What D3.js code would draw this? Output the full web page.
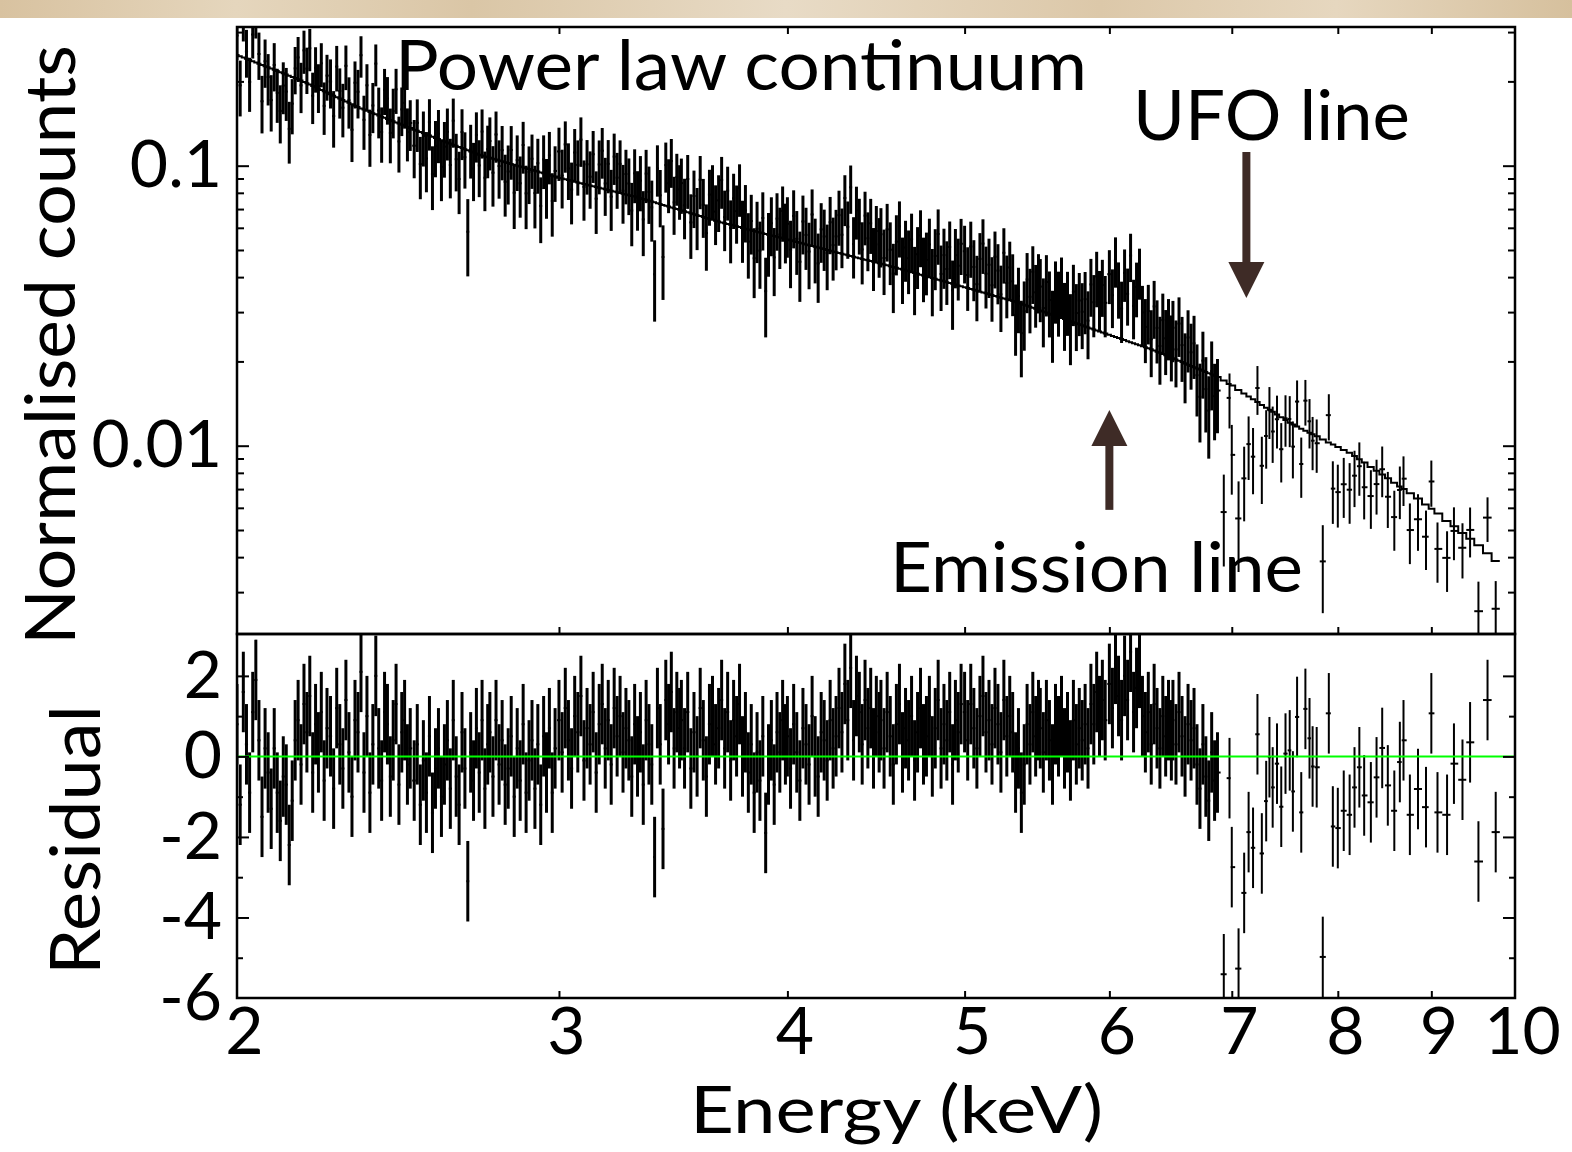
<!DOCTYPE html>
<html><head><meta charset="utf-8">
<script src="https://cdn.jsdelivr.net/npm/d3@7"></script>
<style>
html,body{margin:0;padding:0;background:#fff;}
svg{display:block;}
text{font-family:Lato,"Noto Sans",sans-serif;fill:#000;}
</style></head><body>
<svg id="chart" width="1572" height="1152"></svg>
<script>
// ================= DATA =================
// channel grouping of the densely binned part (start energy and bin step, keV)
const segStartKeV = [2.00, 2.25, 2.50, 2.75, 3.00, 3.50, 4.00, 4.50, 5.00, 5.50, 6.00, 6.50];
const segStepKeV  = [0.0080, 0.0088, 0.0097, 0.0107, 0.0120, 0.0140, 0.0158, 0.0177, 0.0195, 0.0213, 0.0232, 0.0250];
// relative 1-sigma error of each group
const segRelErr   = [0.20, 0.21, 0.22, 0.23, 0.24, 0.25, 0.26, 0.27, 0.27, 0.28, 0.28, 0.28];

// residuals (sigma), one array per group
const resid1 = [0.8,-1.2,1.6,0.3,-0.9,1.1,1.9,0.4,-1.5,0.2,-0.4,-1.3,0.2,-0.9,-1.6,-0.5,-0.7,-2.2,-1.1,0.4,0.9,-0.2,1.3,0.6,1.5,-0.4,0.8,0.1,1.1,-0.6,0.7];
const resid2 = [0.5,-0.8,1.2,0.3,-0.3,1.4,0.1,-1.0,0.9,0.6,2.1,-0.4,1.0,-0.9,0.3,2.0,0.2,-0.6,1.1,0.8,-0.5,0.4,1.3,-0.7,0.6,0.9,-0.2,0.2];
const resid3 = [-0.6,0.3,-1.2,-0.1,-0.9,0.5,-1.4,-0.3,0.2,-1.0,-0.2,0.4,-0.8,0.9,-0.5,-1.2,0.6,-0.3,-3.1,0.1,-0.6,0.7,-0.4,0.9,-0.8,0.3];
const resid4 = [0.6,-0.5,0.9,-0.2,0.4,-0.7,-0.3,0.5,-1.0,0.2,-0.6,0.8,-0.9,-0.1,0.4,-0.8,0.3,-1.2,0.5,-0.4,0.7,-0.9,0.2];
const resid5 = [0.9,0.1,1.2,0.4,-0.3,1.0,0.6,1.5,-0.1,0.7,0.3,1.1,-0.4,0.8,1.3,0.2,0.9,-0.2,1.2,0.5,1.0,0.1,0.7,0.4,-0.5,0.8,0.0,0.6,-0.7,0.9,0.3,-0.2,-2.5,1.2,0.3,-1.8,1.4,0.8,1.6,0.2,1.1,0.7];
const resid6 = [0.9,0.2,1.1,-0.3,0.6,0.0,1.2,0.4,-0.5,0.8,1.0,0.3,0.7,1.4,0.2,1.1,-0.1,0.9,0.5,1.3,0.0,0.6,-0.4,0.3,-0.9,0.1,-0.6,0.5,-1.9,-0.2,0.4,-0.7,0.6,0.1,0.9,0.3];
const resid7 = [0.5,-0.3,0.8,0.1,-0.6,0.7,0.3,-0.2,1.0,0.0,-0.5,0.6,0.4,-0.1,0.9,0.2,0.5,1.2,0.6,1.8,0.9,2.2,0.4,1.5,1.1,0.3,1.4,0.7,1.2,0.2,1.0,0.6];
const resid8 = [0.9,0.2,1.1,0.5,-0.2,0.8,1.3,0.1,0.7,0.4,1.0,-0.1,0.6,1.2,0.3,0.5,1.0,0.0,0.7,1.4,0.2,0.8,0.4,1.1,-0.2,0.9,0.6,1.3];
const resid9 = [1.1,0.4,1.3,0.7,0.2,1.0,1.5,0.6,0.9,0.3,1.2,0.8,0.1,1.4,0.5,1.0,0.6,-0.4,0.2,-0.9,-0.2,0.8,0.3,1.1,0.5,0.9];
const resid10 = [0.7,0.1,0.9,0.4,-0.2,0.8,0.5,1.0,0.2,0.6,-0.1,0.9,0.3,0.7,0.4,0.8,0.2,1.3,0.8,1.6,1.0,1.4,0.9];
const resid11 = [1.8,1.2,2.3,1.5,0.9,2.0,1.4,2.6,1.1,1.7,2.2,1.0,0.6,1.1,0.3,1.3,0.7,0.2,1.0,0.5,0.9,0.4];
const resid12 = [0.9,0.3,1.1,0.5,0.0,0.8,0.4,0.7,-0.2,-0.8,0.3,-0.5,-1.1,0.1,-0.6,-0.4];

// sparsely binned part above ~6.9 keV
const sparseEnergy = [6.93,6.98,7.00,7.06,7.11,7.15,7.19,7.23,7.27,7.31,7.34,7.37,7.41,7.45,7.49,7.53,7.56,7.60,7.64,7.68,7.72,7.75,7.79,7.85,7.91,7.95,8.00,8.06,8.12,8.17,8.22,8.27,8.34,8.40,8.46,8.52,8.59,8.65,8.69,8.76,8.85,8.94,9.00,9.07,9.18,9.26,9.36,9.45,9.55,9.66,9.76];
const sparseResid  = [-5.41,-0.54,-2.75,-5.27,-3.39,-1.88,-2.27,0.55,-2.41,-1.11,-0.02,-0.77,-0.18,-1.25,0.07,0.15,-0.87,0.98,-1.39,1.18,0.45,-0.25,-0.27,-4.98,1.07,-1.74,-1.78,-1.35,-1.45,-0.77,-0.27,-0.97,-1.14,-0.52,0.21,-0.72,-1.35,-0.14,0.40,-1.45,-0.81,-1.26,1.07,-1.39,-1.45,-0.18,-0.58,0.35,-2.61,1.40,-1.88];
const sparseRelErr = 0.21;

// power-law continuum model
const modelEnergy = [2.000,2.165,2.335,2.518,2.716,3.004,3.322,3.675,4.168,4.552,4.909,5.361,5.855,6.339,6.897,7.533,8.123,8.873,9.605,9.875];
const modelCounts = [0.2485,0.2023,0.1607,0.1320,0.1092,0.0904,0.0767,0.0629,0.0508,0.0438,0.0381,0.0323,0.0263,0.02197,0.01745,0.01205,0.00942,0.00640,0.00428,0.00360];

// axes
const xTicks = [2,3,4,5,6,7,8,9,10];
const yTopMajor = [0.01, 0.1];
const yTopMajorLabels = ["0.01", "0.1"];
const yTopMinor = [0.003,0.004,0.005,0.006,0.007,0.008,0.009,0.02,0.03,0.04,0.05,0.06,0.07,0.08,0.09,0.2,0.3];
const resMajor = [2,0,-2,-4,-6];
const resMinor = [1,-1,-3,-5];
const yTopDomain = [0.002126, 0.3128];
const resDomain = [-6, 3.04];

// annotation arrows (energy, tail value, tip value)
const arrowEnergy = [7.13, 6.0];
const arrowTail = [0.112, 0.0059];
const arrowTip = [0.0337, 0.0134];

// ================= LAYOUT =================
const X0 = 237, X1 = 1515, YT0 = 27, YT1 = 634, YB1 = 998;
const svg = d3.select("#chart");

// paper strip on top
const defs = svg.append("defs");
const grad = defs.append("linearGradient").attr("id","paper").attr("x1","0").attr("x2","1").attr("y1","0").attr("y2","0");
[["0%","#d8c2a0"],["15%","#e5d6bd"],["30%","#dac6a6"],["50%","#e8dbc6"],["70%","#dcc8a9"],["85%","#e6d7bf"],["100%","#d6c09d"]]
  .forEach(s=>grad.append("stop").attr("offset",s[0]).attr("stop-color",s[1]));
svg.append("rect").attr("x",0).attr("y",0).attr("width",1572).attr("height",18).attr("fill","url(#paper)");

defs.append("clipPath").attr("id","clipTop").append("rect").attr("x",X0).attr("y",YT0).attr("width",X1-X0).attr("height",YT1-YT0);
defs.append("clipPath").attr("id","clipBot").append("rect").attr("x",X0).attr("y",YT1).attr("width",X1-X0).attr("height",YB1-YT1);

const x = d3.scaleLog().domain([2,10]).range([X0,X1]);
const yTop = d3.scaleLog().domain(yTopDomain).range([YT1,YT0]);
const yRes = d3.scaleLinear().domain(resDomain).range([YB1,YT1]);
const modelLog = d3.scaleLog().domain(modelEnergy).range(modelCounts.map(Math.log10));

// build bins
const residDense = [resid1,resid2,resid3,resid4,resid5,resid6,resid7,resid8,resid9,resid10,resid11,resid12];
const bins = [];
segStartKeV.forEach((s,k)=>{
  residDense[k].forEach((r,i)=>bins.push({E: s + i*segStepKeV[k], r, g: segRelErr[k], dense: true}));
});
sparseEnergy.forEach((E,i)=>bins.push({E, r: sparseResid[i], g: sparseRelErr, dense: false}));
bins.forEach((b,i)=>{
  const p = bins[i-1], n = bins[i+1];
  b.lo = p ? Math.sqrt(p.E*b.E) : b.E*Math.sqrt(b.E/n.E);
  b.hi = n ? Math.sqrt(b.E*n.E) : b.E*Math.sqrt(b.E/p.E);
  b.m = Math.pow(10, modelLog(b.E));
  // residual r = (data - model)/sigma with Poisson-like sigma = g*sqrt(data*model)
  const rg = b.r*b.g;
  const q = (rg + Math.sqrt(rg*rg + 4))/2;
  b.d = b.m*q*q;
  b.s = b.g*b.m*q;
});
const sw = d => d.dense ? 3 : 2;

// ---------- top panel ----------
const gTop = svg.append("g").attr("clip-path","url(#clipTop)");
gTop.selectAll("line.ev").data(bins).join("line")
  .attr("x1",d=>x(d.E)).attr("x2",d=>x(d.E))
  .attr("y1",d=>yTop(Math.max(d.d-d.s,1e-4))).attr("y2",d=>yTop(d.d+d.s))
  .attr("stroke","#000").attr("stroke-width",sw);
gTop.selectAll("line.eh").data(bins).join("line")
  .attr("x1",d=>x(d.lo)).attr("x2",d=>x(d.hi))
  .attr("y1",d=>yTop(d.d)).attr("y2",d=>yTop(d.d))
  .attr("stroke","#000").attr("stroke-width",2);
const stepPts = bins.map(b=>[b.lo,b.m]).concat([[bins[bins.length-1].hi, bins[bins.length-1].m]]);
gTop.append("path").datum(stepPts)
  .attr("d", d3.line().x(d=>x(d[0])).y(d=>yTop(d[1])).curve(d3.curveStepAfter))
  .attr("fill","none").attr("stroke","#000").attr("stroke-width",2);

// ---------- residual panel ----------
const gBot = svg.append("g").attr("clip-path","url(#clipBot)");
gBot.selectAll("line.rv").data(bins).join("line")
  .attr("x1",d=>x(d.E)).attr("x2",d=>x(d.E))
  .attr("y1",d=>yRes(d.r-1)).attr("y2",d=>yRes(d.r+1))
  .attr("stroke","#000").attr("stroke-width",sw);
gBot.selectAll("line.rh").data(bins).join("line")
  .attr("x1",d=>x(d.lo)).attr("x2",d=>x(d.hi))
  .attr("y1",d=>yRes(d.r)).attr("y2",d=>yRes(d.r))
  .attr("stroke","#000").attr("stroke-width",2);
gBot.append("line").attr("x1",X0).attr("x2",X1).attr("y1",yRes(0)).attr("y2",yRes(0))
  .attr("stroke","#00ff00").attr("stroke-width",2);

// ---------- axes ----------
function styleAxis(g){ g.select(".domain").remove(); g.selectAll(".tick line").attr("stroke","#000").attr("stroke-width",2); g.selectAll("text").attr("font-size",66).attr("fill","#000").attr("font-family","Lato, 'Noto Sans', sans-serif"); }
const noLab = ()=>"";
const plain = d=>String(d);
svg.append("g").attr("transform",`translate(0,${YT0})`).call(d3.axisTop(x).tickValues(xTicks.slice(1,-1)).tickSize(-7).tickFormat(noLab)).call(styleAxis);
svg.append("g").attr("transform",`translate(0,${YT1})`).call(d3.axisBottom(x).tickValues(xTicks.slice(1,-1)).tickSize(7).tickFormat(noLab)).call(styleAxis)
   .selectAll(".tick line").attr("y2",-7);
svg.append("g").attr("transform",`translate(0,${YB1})`).call(d3.axisBottom(x).tickValues(xTicks).tickSizeInner(-7).tickSizeOuter(0).tickPadding(9).tickFormat(plain)).call(styleAxis)
   .call(g=>{g.selectAll(".tick text").attr("dx",7); g.selectAll(".tick").filter(d=>d===2||d===10).select("line").remove();});

svg.append("g").attr("transform",`translate(${X0},0)`).call(d3.axisLeft(yTop).tickValues(yTopMajor).tickSizeInner(-12).tickPadding(15).tickFormat((d,i)=>yTopMajorLabels[i])).call(styleAxis);
svg.append("g").attr("transform",`translate(${X0},0)`).call(d3.axisLeft(yTop).tickValues(yTopMinor).tickSize(-7).tickFormat(noLab)).call(styleAxis);
svg.append("g").attr("transform",`translate(${X1},0)`).call(d3.axisRight(yTop).tickValues(yTopMajor).tickSize(-12).tickFormat(noLab)).call(styleAxis);
svg.append("g").attr("transform",`translate(${X1},0)`).call(d3.axisRight(yTop).tickValues(yTopMinor).tickSize(-7).tickFormat(noLab)).call(styleAxis);

svg.append("g").attr("transform",`translate(${X0},0)`).call(d3.axisLeft(yRes).tickValues(resMajor).tickSizeInner(-12).tickPadding(15).tickFormat(plain)).call(styleAxis)
   .call(g=>g.selectAll(".tick").filter(d=>d===-6).select("line").remove());
svg.append("g").attr("transform",`translate(${X0},0)`).call(d3.axisLeft(yRes).tickValues(resMinor).tickSize(-6).tickFormat(noLab)).call(styleAxis);
svg.append("g").attr("transform",`translate(${X1},0)`).call(d3.axisRight(yRes).tickValues(resMajor.filter(v=>v>-6)).tickSize(-12).tickFormat(noLab)).call(styleAxis);
svg.append("g").attr("transform",`translate(${X1},0)`).call(d3.axisRight(yRes).tickValues(resMinor).tickSize(-6).tickFormat(noLab)).call(styleAxis);

// frames
svg.append("rect").attr("x",X0).attr("y",YT0).attr("width",X1-X0).attr("height",YT1-YT0).attr("fill","none").attr("stroke","#000").attr("stroke-width",2.5);
svg.append("rect").attr("x",X0).attr("y",YT1).attr("width",X1-X0).attr("height",YB1-YT1).attr("fill","none").attr("stroke","#000").attr("stroke-width",2.5);

// ---------- arrows ----------
const arrowCol = "#3e2b26";
arrowEnergy.forEach((E,i)=>{
  const ax = x(E), yTail = yTop(arrowTail[i]), yTipP = yTop(arrowTip[i]);
  const dir = yTipP > yTail ? 1 : -1;
  const headLen = 36, halfW = 18;
  svg.append("line").attr("x1",ax).attr("x2",ax).attr("y1",yTail).attr("y2",yTipP - dir*(headLen-2))
    .attr("stroke",arrowCol).attr("stroke-width",8);
  svg.append("path").attr("d",`M${ax-halfW},${yTipP-dir*headLen} L${ax+halfW},${yTipP-dir*headLen} L${ax},${yTipP} Z`).attr("fill",arrowCol);
});

// ---------- texts ----------
function label(t, xx, yy, len, fs, extra){ const e = svg.append("text").attr("x",xx).attr("y",yy).attr("font-size",fs).attr("textLength",len).attr("lengthAdjust","spacingAndGlyphs").text(t); if(extra) extra(e); return e; }
label("Power law continuum", 395, 90, 692, 70);
label("UFO line", 1133, 140, 277, 70);
label("Emission line", 890, 592, 413, 70);
label("Energy (keV)", 690, 1133, 413, 66);
label("Normalised counts", 0, 0, 600, 70, e=>e.attr("text-anchor","middle").attr("transform","translate(75,345) rotate(-90)"));
label("Residual", 0, 0, 270, 70, e=>e.attr("text-anchor","middle").attr("transform","translate(100,840) rotate(-90)"));
</script>
</body></html>
